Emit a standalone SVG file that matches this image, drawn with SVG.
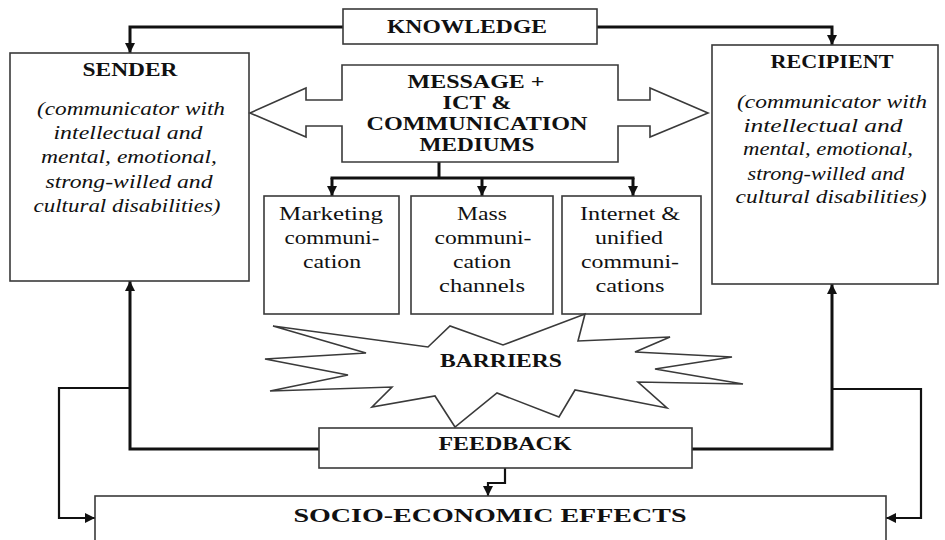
<svg xmlns="http://www.w3.org/2000/svg" width="945" height="540" viewBox="0 0 945 540">
<defs>
<style>
.box{fill:#fff;stroke:#3a3a3a;stroke-width:1.6}
.thin{fill:none;stroke:#444;stroke-width:1.5}
.c{fill:none;stroke:#111;stroke-width:3;stroke-linejoin:miter}
.c2{fill:none;stroke:#111;stroke-width:2.2}
text{font-family:"Liberation Serif","Times New Roman",serif;fill:#111;text-anchor:middle}
.h{font-weight:bold;font-size:18px}
.i{font-style:italic;font-size:18px}
.r{font-size:18px}
</style>
<marker id="ah" viewBox="0 0 10 10" refX="10" refY="5" markerWidth="10" markerHeight="10" markerUnits="userSpaceOnUse" orient="auto">
<path d="M0,0 L10,5 L0,10 z" fill="#111"/>
</marker>
</defs>
<rect width="945" height="540" fill="#fff"/>

<g id="connectors">
<path class="c" d="M343,27 H130 V53" marker-end="url(#ah)"/>
<path class="c" d="M597,27 H832 V45" marker-end="url(#ah)"/>
<path class="c" d="M439,162 V178"/>
<path class="c" d="M330.5,178 H634.5"/>
<path class="c" d="M332,178 V196" marker-end="url(#ah)"/>
<path class="c" d="M482,178 V196" marker-end="url(#ah)"/>
<path class="c" d="M633,178 V196" marker-end="url(#ah)"/>
<path class="c" d="M319,449 H130 V281" marker-end="url(#ah)"/>
<path class="c" d="M692,449 H832 V284" marker-end="url(#ah)"/>
<path class="c2" d="M130,388 H59 V518 H95" marker-end="url(#ah)"/>
<path class="c2" d="M832,389 H921 V518 H886" marker-end="url(#ah)"/>
<path class="c2" d="M505,468 V483 H488 V496" marker-end="url(#ah)"/>
</g>

<g id="knowledge">
<rect class="box" x="343" y="9" width="254" height="35"/>
<text class="h" x="467" y="33" textLength="160" lengthAdjust="spacingAndGlyphs">KNOWLEDGE</text>
</g>

<g id="sender">
<rect class="box" x="10" y="53" width="239" height="228"/>
<text class="h" x="130" y="76" textLength="95" lengthAdjust="spacingAndGlyphs">SENDER</text>
<text class="i" x="131" y="115" textLength="188" lengthAdjust="spacingAndGlyphs">(communicator with</text>
<text class="i" x="128" y="139" textLength="149" lengthAdjust="spacingAndGlyphs">intellectual and</text>
<text class="i" x="129" y="163" textLength="176" lengthAdjust="spacingAndGlyphs">mental, emotional,</text>
<text class="i" x="129" y="188" textLength="167" lengthAdjust="spacingAndGlyphs">strong-willed and</text>
<text class="i" x="127" y="212" textLength="187" lengthAdjust="spacingAndGlyphs">cultural disabilities)</text>
</g>

<g id="recipient">
<rect class="box" x="712" y="45" width="226" height="239"/>
<text class="h" x="832" y="68" textLength="123" lengthAdjust="spacingAndGlyphs">RECIPIENT</text>
<text class="i" x="832" y="108" textLength="190" lengthAdjust="spacingAndGlyphs">(communicator with</text>
<text class="i" x="823" y="132" textLength="159" lengthAdjust="spacingAndGlyphs">intellectual and</text>
<text class="i" x="828" y="155" textLength="170" lengthAdjust="spacingAndGlyphs">mental, emotional,</text>
<text class="i" x="826" y="180" textLength="157" lengthAdjust="spacingAndGlyphs">strong-willed and</text>
<text class="i" x="831" y="203" textLength="191" lengthAdjust="spacingAndGlyphs">cultural disabilities)</text>
</g>

<g id="message">
<polygon class="box" points="342,65 618,65 618,100 650,100 650,88 708,113 650,137 650,126 618,126 618,162 342,162 342,126 306,126 306,137 250,113 306,88 306,100 342,100"/>
<text class="h" x="476" y="88" textLength="137" lengthAdjust="spacingAndGlyphs">MESSAGE +</text>
<text class="h" x="477" y="109" textLength="69" lengthAdjust="spacingAndGlyphs">ICT &amp;</text>
<text class="h" x="477" y="130" textLength="221" lengthAdjust="spacingAndGlyphs">COMMUNICATION</text>
<text class="h" x="477" y="151" textLength="115" lengthAdjust="spacingAndGlyphs">MEDIUMS</text>
</g>

<g id="marketing">
<rect class="box" x="264" y="196" width="135" height="118"/>
<text class="r" x="331" y="220" textLength="104" lengthAdjust="spacingAndGlyphs">Marketing</text>
<text class="r" x="332" y="244" textLength="95" lengthAdjust="spacingAndGlyphs">communi-</text>
<text class="r" x="332" y="268" textLength="58" lengthAdjust="spacingAndGlyphs">cation</text>
</g>

<g id="mass">
<rect class="box" x="411" y="196" width="142" height="118"/>
<text class="r" x="482" y="220" textLength="50" lengthAdjust="spacingAndGlyphs">Mass</text>
<text class="r" x="483" y="244" textLength="97" lengthAdjust="spacingAndGlyphs">communi-</text>
<text class="r" x="482" y="268" textLength="58" lengthAdjust="spacingAndGlyphs">cation</text>
<text class="r" x="482" y="292" textLength="86" lengthAdjust="spacingAndGlyphs">channels</text>
</g>

<g id="internet">
<rect class="box" x="562" y="196" width="139" height="118"/>
<text class="r" x="630" y="220" textLength="100" lengthAdjust="spacingAndGlyphs">Internet &amp;</text>
<text class="r" x="629" y="244" textLength="68" lengthAdjust="spacingAndGlyphs">unified</text>
<text class="r" x="630" y="268" textLength="98" lengthAdjust="spacingAndGlyphs">communi-</text>
<text class="r" x="630" y="292" textLength="69" lengthAdjust="spacingAndGlyphs">cations</text>
</g>

<g id="barriers">
<polygon class="box" points="273,326 428,347 450,326 503,345 585,314 578,341 670,337 635,352 732,357 655,369 743,384 638,382 667,408 575,390 559,417 497,393 455,427 435,396 372,407 392,387 270,391 348,375 265,359 366,353"/>
<text class="h" x="501" y="367" textLength="122" lengthAdjust="spacingAndGlyphs">BARRIERS</text>
</g>

<g id="feedback">
<rect class="box" x="319" y="428" width="373" height="40"/>
<text class="h" x="505" y="450" textLength="133" lengthAdjust="spacingAndGlyphs">FEEDBACK</text>
</g>

<g id="socio-economic">
<rect class="box" x="95" y="496" width="791" height="60"/>
<text class="h" x="490" y="522" style="font-size:19px" textLength="393" lengthAdjust="spacingAndGlyphs">SOCIO-ECONOMIC EFFECTS</text>
</g>
</svg>
